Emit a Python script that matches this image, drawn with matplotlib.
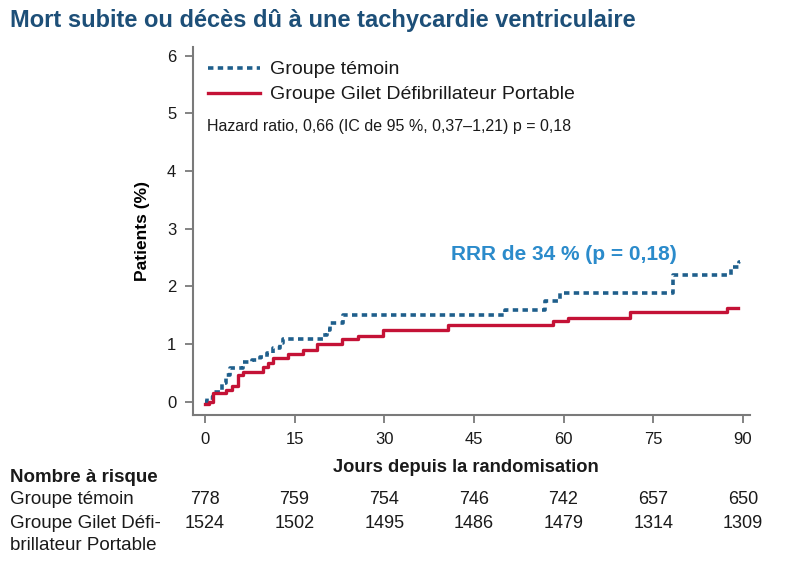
#!/usr/bin/env python3
"""
Courbe de Kaplan-Meier : mort subite ou deces du a une tachycardie ventriculaire
"""

import matplotlib.pyplot as plt
import matplotlib.transforms as mtransforms

# jours / pourcentage cumule (groupe temoin)
control_days = [0, 0.3, 1.3, 2.8, 3.6, 4.2, 6.4, 7.8, 9.2, 10.3, 11.4, 12.5, 13.1,
                19.8, 20.4, 20.9, 23.1, 50.2, 56.9, 59.4, 78.3, 88.1, 89.3, 89.6]
control_pct = [0, 0.06, 0.17, 0.32, 0.46, 0.58, 0.69, 0.72, 0.78, 0.84, 0.93, 1.01, 1.08,
               1.16, 1.24, 1.36, 1.50, 1.59, 1.75, 1.88, 2.20, 2.34, 2.43, 2.43]

# groupe gilet defibrillateur portable
vest_days = [0, 0.6, 1.4, 3.6, 4.5, 5.6, 6.4, 9.7, 10.6, 11.4, 13.9, 16.4, 18.7,
             22.9, 25.6, 29.8, 40.7, 58.3, 60.8, 71.1, 87.3, 89.2]
vest_pct = [-0.04, 0.0, 0.15, 0.21, 0.27, 0.47, 0.52, 0.61, 0.68, 0.75, 0.82, 0.90, 1.00,
            1.08, 1.14, 1.25, 1.33, 1.40, 1.46, 1.56, 1.63, 1.63]

risk_days = [0, 15, 30, 45, 60, 75, 90]
risk_control = [778, 759, 754, 746, 742, 657, 650]
risk_vest = [1524, 1502, 1495, 1486, 1479, 1314, 1309]

BLUE = '#1f5f8c'
RED = '#c41236'
LIGHT_BLUE = '#2b8bcb'
TITLE = '#1d4f78'
GREY = '#7a7a7a'
TXT = '#1a1a1a'

W, H = 789, 566

plt.rcParams['font.family'] = ['Liberation Sans', 'DejaVu Sans']


def fx(px):
    return px / W


def fy(py):
    return 1 - py / H


def main():
    fig = plt.figure(figsize=(W / 100, H / 100), dpi=100)
    ax = fig.add_axes([fx(193), fy(415), fx(750) - fx(193), fy(47) - fy(415)])

    ax.plot(control_days, control_pct, drawstyle='steps-post', color=BLUE, lw=2.6,
            linestyle=(0, (1.5, 1.2)), dash_capstyle='butt', label='Groupe témoin')
    ax.plot(vest_days, vest_pct, drawstyle='steps-post', color=RED, lw=2.4,
            label='Groupe Gilet Défibrillateur Portable')

    ax.set_xlim(-2.0, 91.2)
    ax.set_ylim(-0.23, 6.15)
    ax.set_xticks(risk_days)
    ax.set_yticks(range(0, 7))

    for s in ['top', 'right']:
        ax.spines[s].set_visible(False)
    for s in ['left', 'bottom']:
        ax.spines[s].set_color(GREY)
        ax.spines[s].set_linewidth(1.5)
    ax.tick_params(labelcolor=TXT, color=GREY, length=6, width=1.3, labelsize=12, pad=6)

    ax.set_ylabel('Patients (%)', fontsize=12.5, fontweight='bold', labelpad=12)

    leg = ax.legend(loc='upper left', bbox_to_anchor=(fx(200), fy(53)),
                    bbox_transform=fig.transFigure, frameon=False,
                    fontsize=14, handlelength=2.7, handletextpad=0.5,
                    labelspacing=0.38, borderaxespad=0)
    for t in leg.get_texts():
        t.set_color(TXT)

    fig.text(fx(207), fy(127), 'Hazard ratio, 0,66 (IC de 95 %, 0,37–1,21) p = 0,18',
             fontsize=11.5, va='center', ha='left', color=TXT)
    fig.text(fx(564), fy(254), 'RRR de 34 % (p = 0,18)', fontsize=15, fontweight='bold',
             color=LIGHT_BLUE, va='center', ha='center')

    fig.text(fx(10), fy(21), 'Mort subite ou décès dû à une tachycardie ventriculaire',
             fontsize=17, fontweight='bold', color=TITLE, va='center', ha='left')

    # tableau des patients a risque
    fig.text(fx(466), fy(467), 'Jours depuis la randomisation', fontsize=13.2,
             fontweight='bold', va='center', ha='center', color=TXT)
    fig.text(fx(10), fy(477), 'Nombre à risque', fontsize=13.5, fontweight='bold',
             va='center', ha='left', color=TXT)
    rows = [(499, 'Groupe témoin'), (523, 'Groupe Gilet Défi-'), (545, 'brillateur Portable')]
    for py, label in rows:
        fig.text(fx(10), fy(py), label, fontsize=13.5, va='center', ha='left', color=TXT)

    trans = mtransforms.blended_transform_factory(ax.transData, fig.transFigure)
    for d, n in zip(risk_days, risk_control):
        fig.text(d, fy(499), str(n), transform=trans, fontsize=13, va='center',
                 ha='center', color=TXT)
    for d, n in zip(risk_days, risk_vest):
        fig.text(d, fy(523), str(n), transform=trans, fontsize=13, va='center',
                 ha='center', color=TXT)

    fig.savefig('out.png', dpi=100)


if __name__ == '__main__':
    main()
